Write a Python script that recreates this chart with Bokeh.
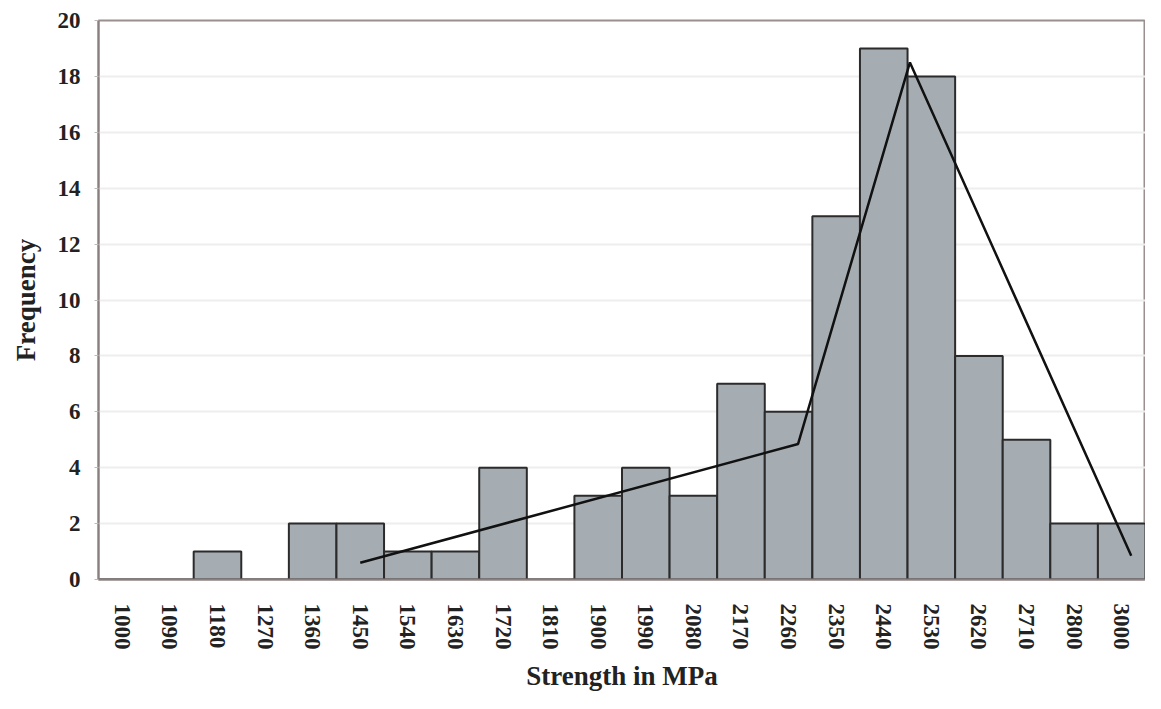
from bokeh.plotting import figure
from bokeh.models import Range1d, FixedTicker, ColumnDataSource
from bokeh.embed import file_html
from bokeh.resources import INLINE

# Data
categories = ["1000", "1090", "1180", "1270", "1360", "1450", "1540", "1630", "1720",
              "1810", "1900", "1990", "2080", "2170", "2260", "2350", "2440", "2530",
              "2620", "2710", "2800", "3000"]
frequency = [0, 0, 1, 0, 2, 2, 1, 1, 4, 0, 3, 4, 3, 7, 6, 13, 19, 18, 8, 5, 2, 2]

# trend polyline (position in bin units from left edge, frequency)
trend_pos = [5.5, 14.7, 17.05, 21.7]
trend_freq = [0.6, 4.85, 18.5, 0.85]

y_ticks = [0, 2, 4, 6, 8, 10, 12, 14, 16, 18, 20]

centers = [i + 0.5 for i in range(len(categories))]
src = ColumnDataSource(dict(x=centers, top=frequency, cat=categories))

FONT = "Liberation Serif"

p = figure(width=1145, height=693, output_backend="svg", toolbar_location=None,
           x_range=Range1d(0, len(categories)), y_range=Range1d(0, 20),
           min_border_left=98, min_border_right=0, min_border_top=20, min_border_bottom=102)

p.vbar(x="x", top="top", width=1.0, source=src, fill_color="#a6adb2",
       line_color="#2b2b2b", line_width=2)
p.line(trend_pos, trend_freq, line_color="#111111", line_width=2.5)

p.outline_line_color = "#9a9090"
p.outline_line_width = 2
p.xgrid.grid_line_color = None
p.ygrid.grid_line_color = "#eeeeee"
p.ygrid.grid_line_width = 2
p.ygrid.ticker = FixedTicker(ticks=y_ticks)

p.xaxis.ticker = FixedTicker(ticks=centers)
p.xaxis.major_label_overrides = {c: lab for c, lab in zip(centers, categories)}
p.xaxis.major_label_orientation = "vertical"
p.yaxis.ticker = FixedTicker(ticks=y_ticks)

for ax in (p.xaxis[0], p.yaxis[0]):
    ax.axis_line_color = "#8a7f7f"
    ax.axis_line_width = 2
    ax.major_tick_line_color = "#bbbbbb"
    ax.major_tick_in = 0
    ax.major_tick_out = 4
    ax.minor_tick_line_color = None
    ax.major_label_text_font = FONT
    ax.major_label_text_font_size = "23px"
    ax.major_label_text_font_style = "bold"
    ax.major_label_text_color = "#222222"
    ax.axis_label_text_font = FONT
    ax.axis_label_text_font_size = "27px"
    ax.axis_label_text_font_style = "bold"
    ax.axis_label_text_color = "#222222"

p.xaxis.major_label_standoff = 20
p.xaxis.major_tick_line_color = None
p.yaxis.major_label_standoff = 14
p.xaxis.axis_label = "Strength in MPa"
p.yaxis.axis_label = "Frequency"
p.xaxis.axis_label_standoff = 8
p.yaxis.axis_label_standoff = 14

open("out.html", "w").write(file_html(p, INLINE))
